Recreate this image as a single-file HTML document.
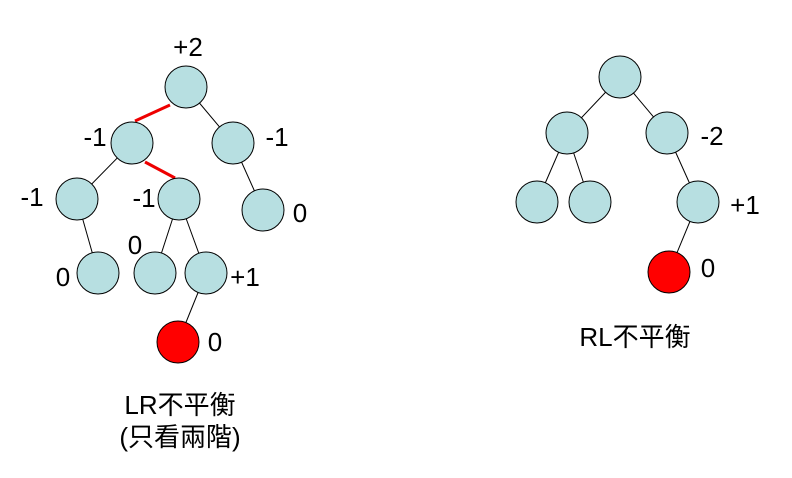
<!DOCTYPE html>
<html><head><meta charset="utf-8"><style>
html,body{margin:0;padding:0;background:#fff;}
svg{display:block;}
text{font-family:"Liberation Sans","Noto Sans CJK TC",sans-serif;font-size:26px;fill:#000;}
.cap{font-size:26px;}
</style></head><body>
<svg width="792" height="478" viewBox="0 0 792 478" xmlns="http://www.w3.org/2000/svg">
<g stroke="#000" stroke-width="1">
<line x1="233" y1="143" x2="263" y2="210"/>
<line x1="132" y1="143" x2="77" y2="199"/>
<line x1="77" y1="199" x2="98" y2="273"/>
<line x1="179" y1="199" x2="155" y2="273"/>
<line x1="179" y1="199" x2="206" y2="273"/>
<line x1="206" y1="273" x2="178" y2="342"/>
<line x1="186" y1="87" x2="233" y2="143"/>
<line x1="620" y1="77" x2="567" y2="133"/>
<line x1="620" y1="77" x2="667" y2="133"/>
<line x1="567" y1="133" x2="537" y2="202"/>
<line x1="567" y1="133" x2="590" y2="202"/>
<line x1="667" y1="133" x2="698" y2="202"/>
<line x1="698" y1="202" x2="669" y2="272"/>
</g>
<g stroke="#e00" stroke-width="3">
<line x1="170" y1="105" x2="135" y2="121"/>
<line x1="145" y1="162" x2="175" y2="178"/>
</g>
<g fill="#b7dfe1" stroke="#000" stroke-width="1">
<circle cx="186" cy="87" r="21"/>
<circle cx="132" cy="143" r="21"/>
<circle cx="233" cy="143" r="21"/>
<circle cx="77" cy="199" r="21"/>
<circle cx="179" cy="199" r="21"/>
<circle cx="263" cy="210" r="21"/>
<circle cx="98" cy="273" r="21"/>
<circle cx="155" cy="273" r="21"/>
<circle cx="206" cy="273" r="21"/>
<circle cx="620" cy="77" r="21"/>
<circle cx="567" cy="133" r="21"/>
<circle cx="667" cy="133" r="21"/>
<circle cx="537" cy="202" r="21"/>
<circle cx="590" cy="202" r="21"/>
<circle cx="698" cy="202" r="21"/>
</g>
<g fill="#ff0000" stroke="#000" stroke-width="1">
<circle cx="178" cy="342" r="21"/>
<circle cx="669" cy="272" r="21"/>
</g>
<g text-anchor="middle">
<text x="188" y="56">+2</text>
<text x="95" y="146">-1</text>
<text x="277" y="146">-1</text>
<text x="32" y="206">-1</text>
<text x="144" y="207">-1</text>
<text x="300" y="222">0</text>
<text x="135" y="254">0</text>
<text x="63" y="286">0</text>
<text x="245" y="286">+1</text>
<text x="215" y="351">0</text>
<text x="712" y="145">-2</text>
<text x="745" y="214">+1</text>
<text x="708" y="277">0</text>
<text class="cap" x="635" y="346">RL不平衡</text>
<text class="cap" x="180" y="414">LR不平衡</text>
<text class="cap" x="180" y="446">(只看兩階)</text>
</g>
</svg>
</body></html>
